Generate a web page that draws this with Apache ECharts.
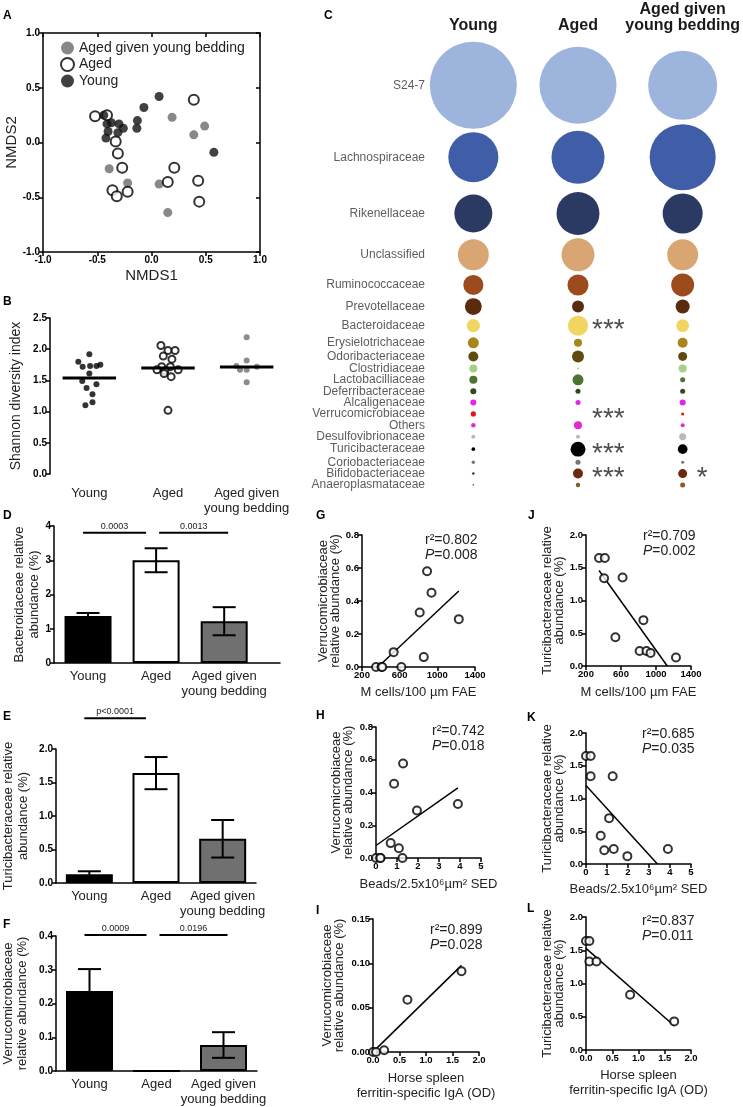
<!DOCTYPE html>
<html><head><meta charset="utf-8">
<script src="https://cdn.jsdelivr.net/npm/echarts@6/dist/echarts.min.js"></script>
<style>html,body{margin:0;padding:0;background:#fff}#c{width:743px;height:1107px}</style>
</head><body><div id="c"></div>
<script>
// ================= DATA =================
// A: NMDS ordination
const nmdsYoung = [[-0.44,0.25],[-0.41,0.17],[-0.37,0.18],[-0.30,0.17],[-0.26,0.13],[-0.40,0.10],[-0.31,0.09],[-0.42,0.04],[-0.13,0.20],[-0.135,0.13],[-0.07,0.32],[0.07,0.42],[0.575,-0.09]];
const nmdsAged = [[-0.52,0.24],[-0.41,0.25],[-0.33,0.01],[-0.31,-0.10],[-0.27,-0.23],[0.21,-0.23],[0.15,-0.36],[0.43,-0.35],[0.39,0.39],[0.44,-0.54],[-0.36,-0.435],[-0.32,-0.49],[-0.22,-0.45]];
const nmdsAYB = [[0.19,0.23],[0.49,0.15],[0.39,0.07],[-0.39,-0.24],[-0.22,-0.37],[0.07,-0.38],[0.15,-0.64]];
const groupNames = ['Young','Aged','Aged given\nyoung bedding'];
const legendNames = ['Aged given young bedding','Aged','Young'];

// B: Shannon diversity (value, horizontal jitter in group units)
const shannonYoung = [1.92,1.80,1.72,1.73,1.73,1.75,1.61,1.49,1.44,1.38,1.28,1.15,1.10];
const jitterYoung  = [0,-0.14,-0.085,0.01,0.09,0.14,0,-0.09,0.09,-0.035,0.04,0.04,-0.05];
const shannonAged  = [2.06,1.98,1.98,1.89,1.84,1.72,1.72,1.67,1.67,1.65,1.61,1.56,1.02];
const jitterAged   = [-0.09,0,0.09,-0.06,0.05,-0.08,0.03,0.13,-0.14,-0.04,-0.05,0.04,0];
const shannonAYB   = [2.19,1.82,1.73,1.72,1.67,1.67,1.47];
const jitterAYB    = [0,0,-0.13,0.13,-0.085,0,0];
const shannonCentre = [1.54,1.70,1.715];

// C: family relative abundance (%), bubble area ~ abundance
const famNames = ['S24-7','Lachnospiraceae','Rikenellaceae','Unclassified','Ruminococcaceae','Prevotellaceae','Bacteroidaceae','Erysielotrichaceae','Odoribacteriaceae','Clostridiaceae','Lactobacilliaceae','Deferribacteraceae','Alcaligenaceae','Verrucomicrobiaceae','Others','Desulfovibrionaceae','Turicibacteraceae','Coriobacteriaceae','Bifidobacteriaceae','Anaeroplasmataceae'];
const abYoung = [56.3,18.6,10.7,7.1,3.0,2.1,1.3,0.9,0.74,0.48,0.48,0.27,0.27,0.2,0.15,0.12,0.1,0.09,0.05,0.02];
const abAged  = [44.1,20.9,13.7,8.1,3.3,1.07,3.0,0.48,1.07,0.03,0.9,0.19,0.19,0,0.48,0.12,1.64,0.19,0.74,0.15];
const abAYB   = [35.4,32.4,11.9,7.1,3.9,1.46,1.22,0.74,0.6,0.48,0.19,0.19,0.27,0.07,0.12,0.36,0.7,0.07,0.6,0.19];
const famSig = [['Bacteroidaceae',1,'***'],['Verrucomicrobiaceae',1,'***'],['Turicibacteraceae',1,'***'],['Bifidobacteriaceae',1,'***'],['Bifidobacteriaceae',2,'*']];

// D-F: mean and SEM (%)
const bactMean = [1.37,3.0,1.22], bactSem = [0.09,0.35,0.41];
const turiMean = [0.13,1.64,0.66], turiSem = [0.045,0.24,0.28];
const verrMean = [0.237,0,0.077], verrSem = [0.065,0,0.038];
const bactSig = [[0,1,'0.0003'],[1,2,'0.0013']], bactSigLevel = 3.8;
const turiSig = [[0,1,'p<0.0001']], turiSigLevel = 2.46;
const verrSig = [[0,1,'0.0009'],[1,2,'0.0196']], verrSigLevel = 0.403;

// G-L: correlations
const gX = [349,407,415,536,618,813,856,891,938,1228];
const gY = [0,0,0,0.09,0,0.33,0.06,0.58,0.45,0.29];
const hX = [0,0.21,0.21,0.70,0.86,1.09,1.26,1.29,1.95,3.90];
const hY = [0,0,0,0.091,0.453,0.059,0,0.577,0.29,0.33];
const iX = [0,0.057,0.21,0.65,1.67];
const iY = [0,0,0.0019,0.059,0.091];
const jX = [349,415,407,618,536,856,813,891,938,1228];
const jY = [1.65,1.65,1.34,1.35,0.44,0.70,0.23,0.23,0.20,0.13];
const kX = [0,0.22,0.22,1.27,1.10,0.70,0.87,1.32,1.97,3.90];
const kY = [1.65,1.65,1.34,1.34,0.70,0.43,0.21,0.23,0.12,0.23];
const lX = [0,0.064,0.064,0.2,0.84,1.68];
const lY = [1.64,1.64,1.33,1.33,0.83,0.43];
const stats = {G:['0.802','0.008'],H:['0.742','0.018'],I:['0.899','0.028'],J:['0.709','0.002'],K:['0.685','0.035'],L:['0.837','0.011']};

// ================= STYLE / BUILD =================
const FONT = '"Liberation Sans", Arial, sans-serif';
const famColors = ['#9db4dc','#405ea7','#2a3a62','#d9a673','#9b4b1c','#5b2b10','#f0d561','#a7861b','#5f4a10','#a8cf85','#4d7430','#2e4b1c','#e025f0','#e0141e','#e02cc8','#b9b9b9','#000000','#767676','#6a2a0e','#8a5a28'];
const barStyles = [{color:'#000',borderColor:'#000',borderWidth:2},{color:'#fff',borderColor:'#000',borderWidth:2},{color:'#707070',borderColor:'#000',borderWidth:2}];

const grids=[], xAxes=[], yAxes=[], series=[], titles=[];
function merge(a,b){ for(const k in b){ const v=b[k]; if(v&&typeof v==='object'&&!Array.isArray(v)&&a[k]&&typeof a[k]==='object'&&!Array.isArray(a[k])) merge(a[k],v); else a[k]=v; } return a; }
function baseAxis(){ return {type:'value', nameLocation:'middle',
  axisLine:{show:true,onZero:false,lineStyle:{color:'#000',width:1.5}},
  axisTick:{show:true,length:4,lineStyle:{color:'#000',width:1.5}},
  axisLabel:{fontFamily:FONT,fontWeight:'bold',fontSize:10,color:'#000',margin:3,showMinLabel:true,showMaxLabel:true},
  splitLine:{show:false}, nameTextStyle:{fontFamily:FONT,fontSize:13,color:'#222'}}; }
function addGrid(g){ grids.push(g); return grids.length-1; }
function addX(o){ xAxes.push(merge(baseAxis(),o)); return xAxes.length-1; }
function addY(o){ yAxes.push(merge(baseAxis(),o)); return yAxes.length-1; }
const f1 = v=>v.toFixed(1), f2 = v=>v.toFixed(2), f0 = v=>String(v);
const catLabel = {customValues:[0,1,2], formatter:v=>groupNames[Math.round(v)], fontWeight:'normal', fontSize:13, color:'#222', lineHeight:15};

function letter(t,l,tp){ titles.push({text:t,left:l,top:tp,padding:0,textStyle:{fontFamily:FONT,fontWeight:'bold',fontSize:12,color:'#000'}}); }
function openCircle(size){ return {symbol:'circle',symbolSize:size,itemStyle:{color:'#fff',borderColor:'#000',borderWidth:2}}; }

// ---- A ----
const gA = addGrid({left:43,top:33,width:217,height:219});
const xA = addX({gridIndex:gA,min:-1,max:1,interval:0.5,name:'NMDS1',nameGap:16,nameTextStyle:{fontSize:15},axisLabel:{formatter:f1}});
const yA = addY({gridIndex:gA,min:-1,max:1,interval:0.5,name:'NMDS2',nameGap:20,nameTextStyle:{fontSize:15},axisLabel:{formatter:f1}});
addX({gridIndex:gA,position:'top',min:-1,max:1,interval:0.5,axisLabel:{show:false},axisTick:{inside:true}});
addY({gridIndex:gA,position:'right',min:-1,max:1,interval:0.5,axisLabel:{show:false},axisTick:{inside:true}});
series.push({type:'scatter',name:legendNames[0],xAxisIndex:xA,yAxisIndex:yA,data:nmdsAYB,symbolSize:9,itemStyle:{color:'#6a6a6a'}});
series.push(merge({type:'scatter',name:legendNames[1],xAxisIndex:xA,yAxisIndex:yA,data:nmdsAged},openCircle(10)));
series.push({type:'scatter',name:legendNames[2],xAxisIndex:xA,yAxisIndex:yA,data:nmdsYoung,symbolSize:9,itemStyle:{color:'#111'}});
letter('A',3,10);

// ---- B ----
const gB = addGrid({left:50,top:318,width:236,height:156});
const xB = addX({gridIndex:gB,min:-0.5,max:2.5,axisLine:{show:false},axisTick:{show:false},axisLabel:merge({margin:12},catLabel)});
const yB = addY({gridIndex:gB,min:0,max:2.5,interval:0.5,name:'Shannon diversity index',nameGap:27,nameTextStyle:{fontSize:14},axisLabel:{formatter:f1}});
series.push({type:'scatter',xAxisIndex:xB,yAxisIndex:yB,symbolSize:6,itemStyle:{color:'#000'},data:shannonYoung.map((v,i)=>[0+jitterYoung[i],v])});
series.push(merge({type:'scatter',xAxisIndex:xB,yAxisIndex:yB,data:shannonAged.map((v,i)=>[1+jitterAged[i],v])},openCircle(7)));
series.push({type:'scatter',xAxisIndex:xB,yAxisIndex:yB,symbolSize:6,itemStyle:{color:'#6e6e6e'},data:shannonAYB.map((v,i)=>[2+jitterAYB[i],v])});
series.push({type:'custom',xAxisIndex:xB,yAxisIndex:yB,z:4,data:shannonCentre.map((v,i)=>[i,v]),
  renderItem:(p,api)=>{const a=api.coord([api.value(0)-0.34,api.value(1)]), b=api.coord([api.value(0)+0.34,api.value(1)]);
    return {type:'line',shape:{x1:a[0],y1:a[1],x2:b[0],y2:b[1]},style:{stroke:'#000',lineWidth:3}};}});
letter('B',3,296);

// ---- C ----
const cols = [abYoung, abAged, abAYB];
const diam = v => v>0 ? 11.6*Math.sqrt(v) : 0;
const rowPos = [0];
for(let i=1;i<famNames.length;i++){
  let m=0; cols.forEach(c=>{ m=Math.max(m,(diam(c[i-1])+diam(c[i]))/2); });
  rowPos.push(rowPos[i-1]+Math.max(11.3,m+3));
}
const gC = addGrid({left:421,top:40,width:314,height:457});
const xC = addX({gridIndex:gC,min:-0.5,max:2.5,position:'top',axisLine:{show:false},axisTick:{show:false},
  axisLabel:{customValues:[0,1,2],formatter:v=>groupNames[Math.round(v)],fontSize:16,lineHeight:16,color:'#1a1a1a',margin:6}});
const yC = addY({gridIndex:gC,inverse:true,min:-45,max:rowPos[rowPos.length-1]+12,axisLine:{show:false},axisTick:{show:false},axisLabel:{show:false}});
// row names, placed at the left edge of the bubble grid
series.push({type:'scatter',xAxisIndex:xC,yAxisIndex:yC,symbolSize:0,silent:true,
  data:famNames.map((n,i)=>[-0.5,rowPos[i]]),
  label:{show:true,position:'left',distance:0,offset:[4,0],formatter:p=>famNames[p.dataIndex],fontFamily:FONT,fontSize:12,color:'#333'}});
cols.forEach((c,ci)=>{
  series.push({type:'scatter',xAxisIndex:xC,yAxisIndex:yC,data:c.map((v,i)=>[ci,rowPos[i],v]),
    symbolSize:val=>diam(val[2]),itemStyle:{color:p=>famColors[p.dataIndex],opacity:1}});
});
series.push({type:'scatter',xAxisIndex:xC,yAxisIndex:yC,symbolSize:0,silent:true,
  data:famSig.map(s=>[s[1],rowPos[famNames.indexOf(s[0])]]),
  label:{show:true,position:'right',distance:14,offset:[0,5],formatter:p=>famSig[p.dataIndex][2],fontFamily:FONT,fontSize:28,color:'#222'}});
letter('C',324,10);

// ---- D/E/F helpers ----
function bars(xi,yi,means){ return {type:'bar',xAxisIndex:xi,yAxisIndex:yi,barWidth:47,z:3,data:means.map((m,i)=>({value:[i,m],itemStyle:barStyles[i]}))}; }
function errBars(xi,yi,means,sems){ return {type:'custom',xAxisIndex:xi,yAxisIndex:yi,z:5,
  data:means.map((m,i)=>[i,m-sems[i],m+sems[i]]),
  renderItem:(p,api)=>{ const x=api.value(0),lo=api.value(1),hi=api.value(2); if(hi===lo) return null;
    const a=api.coord([x,hi]), b=api.coord([x,lo]), w=11.5, st={stroke:'#000',lineWidth:2};
    return {type:'group',children:[{type:'line',shape:{x1:a[0],y1:a[1],x2:b[0],y2:b[1]},style:st},
      {type:'line',shape:{x1:a[0]-w,y1:a[1],x2:a[0]+w,y2:a[1]},style:st},
      {type:'line',shape:{x1:b[0]-w,y1:b[1],x2:b[0]+w,y2:b[1]},style:st}]}; }}; }
function sigBars(xi,yi,items,level){ return {type:'custom',xAxisIndex:xi,yAxisIndex:yi,clip:false,silent:true,z:6,
  data:items.map(it=>[it[0],it[1],level]),
  renderItem:(p,api)=>{ const i=p.dataIndex; const a=api.coord([api.value(0),api.value(2)]), b=api.coord([api.value(1),api.value(2)]);
    const x1=a[0]+(i===0?-5:3), x2=b[0]+(i===0?-10:4);
    return {type:'group',children:[{type:'line',shape:{x1:x1,y1:a[1],x2:x2,y2:a[1]},style:{stroke:'#000',lineWidth:2}},
      {type:'text',x:(x1+x2)/2,y:a[1]-2,style:{text:items[i][2],fill:'#222',font:'9px '+FONT,align:'center',verticalAlign:'bottom'}}]}; }}; }

// ---- D ----
const gD = addGrid({left:54,top:526,width:226,height:137});
const xD = addX({gridIndex:gD,min:-0.5,max:2.82,axisTick:{show:false},axisLabel:merge({margin:6},catLabel)});
const yD = addY({gridIndex:gD,min:0,max:4,interval:1,name:'Bacteroidaceae relative\nabundance (%)',nameGap:10,nameTextStyle:{lineHeight:15},axisLabel:{formatter:f0}});
series.push(bars(xD,yD,bactMean), errBars(xD,yD,bactMean,bactSem), sigBars(xD,yD,bactSig,bactSigLevel));
letter('D',3,510);

// ---- E ----
const gE = addGrid({left:53,top:749,width:203,height:134});
const xE = addX({gridIndex:gE,min:-0.5,max:2.5,axisTick:{show:false},axisLabel:merge({margin:6},catLabel)});
const yE = addY({gridIndex:gE,min:0,max:2,interval:0.5,name:'Turicibacteraceae relative\nabundance (%)',nameGap:25,nameTextStyle:{lineHeight:15},axisLabel:{formatter:f1}});
series.push(bars(xE,yE,turiMean), errBars(xE,yE,turiMean,turiSem), sigBars(xE,yE,turiSig,turiSigLevel));
letter('E',3,711);

// ---- F ----
const gF = addGrid({left:55,top:936,width:202,height:135});
const xF = addX({gridIndex:gF,min:-0.5,max:2.5,axisTick:{show:false},axisLabel:merge({margin:6},catLabel)});
const yF = addY({gridIndex:gF,min:0,max:0.4,interval:0.1,name:'Verrucomicrobiaceae\nrelative abundance (%)',nameGap:27,nameTextStyle:{lineHeight:14},axisLabel:{formatter:f1}});
series.push(bars(xF,yF,verrMean), errBars(xF,yF,verrMean,verrSem), sigBars(xF,yF,verrSig,verrSigLevel));
letter('F',3,919);

// ---- G-L ----
function regLine(xs,ys){ const n=xs.length, mx=xs.reduce((a,b)=>a+b,0)/n, my=ys.reduce((a,b)=>a+b,0)/n;
  let sxy=0,sxx=0; for(let i=0;i<n;i++){sxy+=(xs[i]-mx)*(ys[i]-my); sxx+=(xs[i]-mx)*(xs[i]-mx);}
  const b=sxy/sxx, a=my-b*mx; let x0=Math.min(...xs), x1=Math.max(...xs); const z=-a/b;
  if(a+b*x0<0) x0=z; if(a+b*x1<0) x1=z; return [[x0,a+b*x0],[x1,a+b*x1]]; }
function corrPanel(key,grid,xs,ys,xo,yo,statPos,letterPos){
  const g=addGrid(grid);
  const xi=addX(merge({gridIndex:g,nameGap:19,axisLabel:{fontSize:9.5}},xo));
  const yi=addY(merge({gridIndex:g,nameGap:20,nameTextStyle:{lineHeight:12},axisLabel:{fontSize:9.5}},yo));
  series.push({type:'line',xAxisIndex:xi,yAxisIndex:yi,data:regLine(xs,ys),symbol:'none',silent:true,lineStyle:{color:'#000',width:1.5},z:1});
  series.push(merge({type:'scatter',xAxisIndex:xi,yAxisIndex:yi,data:xs.map((x,i)=>[x,ys[i]]),z:3},openCircle(8)));
  const st={fontFamily:FONT,fontSize:14,fontWeight:'normal',color:'#222',lineHeight:15};
  titles.push({text:'{n|r²='+stats[key][0]+'}\n{i|P}{n|='+stats[key][1]+'}',left:statPos[0],top:statPos[1],padding:0,
    textStyle:{fontWeight:'normal',fontSize:14,rich:{n:st,i:Object.assign({},st,{fontStyle:'italic'})}}});
  letter(key,letterPos[0],letterPos[1]);
}
const verrName='Verrucomicrobiaceae\nrelative abundance (%)', turiName='Turicibacteraceae relative\nabundance (%)';
const mName='M cells/100 µm FAE', bName='Beads/2.5x10⁶µm² SED', hName='Horse spleen\nferritin-specific IgA (OD)';
corrPanel('G',{left:362,top:535,width:113,height:132},gX,gY,{min:200,max:1400,interval:400,name:mName,axisLabel:{formatter:f0}},{min:0,max:0.8,interval:0.2,name:verrName,nameGap:10,axisLabel:{formatter:f1}},[425,533],[316,510]);
corrPanel('H',{left:376,top:727,width:105,height:131},hX,hY,{min:0,max:5,interval:1,name:bName,nameGap:20},{min:0,max:0.8,interval:0.2,name:verrName,nameGap:22,axisLabel:{formatter:f1}},[432,724],[316,710]);
corrPanel('I',{left:373,top:919,width:106,height:133},iX,iY,{min:0,max:2,interval:0.5,name:hName,nameTextStyle:{lineHeight:15},axisLabel:{formatter:f1}},{min:0,max:0.15,interval:0.05,name:verrName,nameGap:28,axisLabel:{formatter:f2}},[430,923],[316,905]);
corrPanel('J',{left:586,top:535,width:105,height:131},jX,jY,{min:200,max:1400,interval:400,name:mName,nameGap:20,axisLabel:{formatter:f0}},{min:0,max:2,interval:0.5,name:turiName,nameGap:21,axisLabel:{formatter:f1}},[643,529],[528,510]);
corrPanel('K',{left:586,top:733,width:105,height:131},kX,kY,{min:0,max:5,interval:1,name:bName},{min:0,max:2,interval:0.5,name:turiName,nameGap:21,axisLabel:{formatter:f1}},[642,727],[527,712]);
corrPanel('L',{left:586,top:917,width:105,height:133},lX,lY,{min:0,max:2,interval:0.5,name:hName,nameGap:18,nameTextStyle:{lineHeight:15},axisLabel:{formatter:f1}},{min:0,max:2,interval:0.5,name:turiName,nameGap:21,axisLabel:{formatter:f1}},[642,914],[527,903]);

const chart = echarts.init(document.getElementById('c'), null, {renderer:'canvas'});
chart.setOption({
  animation:false, backgroundColor:'#fff',
  title:titles, grid:grids, xAxis:xAxes, yAxis:yAxes, series:series,
  legend:{data:legendNames,left:55,top:36,orient:'vertical',itemWidth:13,itemHeight:13,itemGap:2,icon:'circle',selectedMode:false,
    textStyle:{fontFamily:FONT,fontSize:14,color:'#222'}}
});
</script></body></html>
